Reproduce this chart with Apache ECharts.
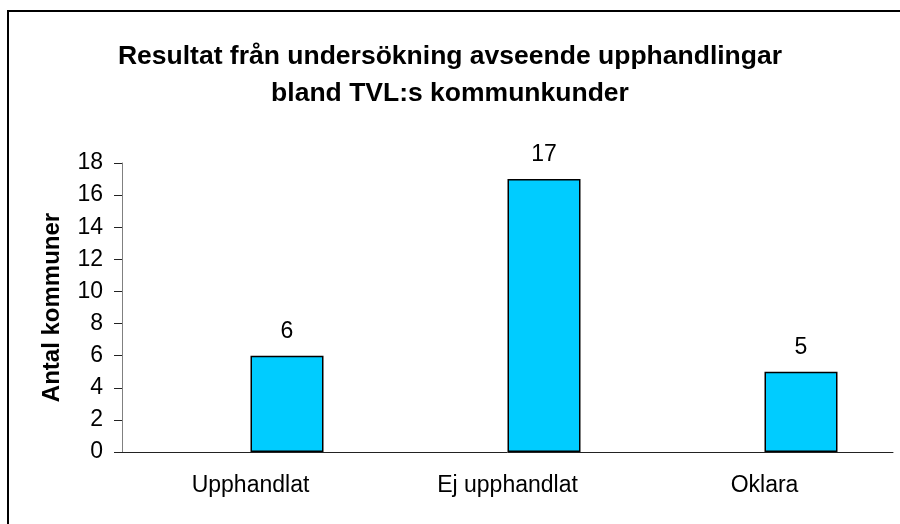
<!DOCTYPE html>
<html>
<head>
<meta charset="utf-8">
<script src="https://cdn.jsdelivr.net/npm/echarts@6/dist/echarts.min.js"></script>
<style>
  html, body { margin: 0; padding: 0; background: #fff; }
  #chart { width: 900px; height: 524px; }
</style>
</head>
<body>
<div id="chart"></div>
<script>
var categories = ['Upphandlat', 'Ej upphandlat', 'Oklara']
var values = [6, 17, 5]
var yTicks = { min: 0, max: 18, interval: 2 }

var font = 'Arial, "Liberation Sans", sans-serif'

var chart = echarts.init(document.getElementById('chart'))
chart.setOption({
  animation: false,
  backgroundColor: '#fff',
  title: {
    text: 'Resultat från undersökning avseende upphandlingar\nbland TVL:s kommunkunder',
    left: 'center',
    top: 33,
    textStyle: {
      fontFamily: font,
      fontWeight: 'bold',
      fontSize: 26.5,
      lineHeight: 37,
      color: '#000'
    }
  },
  graphic: [{
    type: 'rect',
    shape: { x: 8, y: 11, width: 1000, height: 1000 },
    style: { fill: 'none', stroke: '#000', lineWidth: 2 },
    silent: true
  }],
  grid: { left: 122, right: 7, top: 163, bottom: 72, outerBoundsMode: 'none' },
  xAxis: {
    type: 'category',
    data: categories,
    axisLine: { lineStyle: { color: '#222', width: 1 } },
    axisTick: { length: 8, lineStyle: { color: '#222' } },
    axisLabel: { fontFamily: font, fontSize: 23, color: '#000', margin: 22 }
  },
  yAxis: {
    type: 'value',
    min: yTicks.min,
    max: yTicks.max,
    interval: yTicks.interval,
    name: 'Antal kommuner',
    nameLocation: 'middle',
    nameGap: 58,
    nameTextStyle: { fontFamily: font, fontSize: 24, fontWeight: 'bold', color: '#000' },
    axisLine: { show: true, lineStyle: { color: '#808080', width: 1 } },
    axisTick: { show: true, length: 8, lineStyle: { color: '#222' } },
    splitLine: { show: false },
    axisLabel: { fontFamily: font, fontSize: 23, color: '#000', margin: 19 }
  },
  series: [
    {
      // empty spacer series, pushes the real bars right as in the original
      type: 'bar',
      data: [],
      barWidth: 73,
      barGap: 0
    },
    {
      type: 'bar',
      data: values,
      barWidth: 73,
      barGap: 0,
      itemStyle: { color: '#00CCFF', borderColor: '#000', borderWidth: 1.5 },
      label: {
        show: true,
        position: 'top',
        distance: 13,
        fontFamily: font,
        fontSize: 23,
        color: '#000'
      }
    }
  ]
})
</script>
</body>
</html>
